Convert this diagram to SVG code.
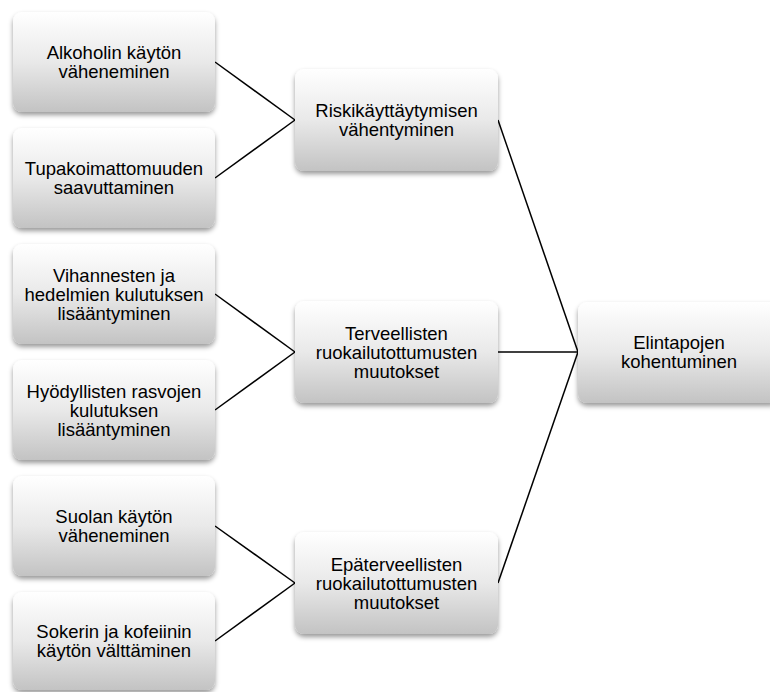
<svg xmlns="http://www.w3.org/2000/svg" width="770" height="692" viewBox="0 0 770 692">
<defs>
<linearGradient id="g" x1="0" y1="0" x2="0" y2="1">
<stop offset="0" stop-color="#ffffff"/>
<stop offset="0.5" stop-color="#e9e9e9"/>
<stop offset="1" stop-color="#c3c3c3"/>
</linearGradient>
<filter id="sh" x="-10%" y="-10%" width="120%" height="130%">
<feDropShadow dx="0" dy="3" stdDeviation="2.5" flood-color="#000" flood-opacity="0.4"/>
</filter>
<style>
.box{fill:url(#g);filter:url(#sh);}
.t{font-family:"Liberation Sans",Arial,sans-serif;font-size:18.5px;fill:#000;text-anchor:middle;}
.c{stroke:#000;stroke-width:1.5;fill:none;}
</style>
</defs>
<rect width="770" height="692" fill="#fff"/>
<g id="connectors">
<line class="c" x1="215" y1="62" x2="295" y2="120"/>
<line class="c" x1="215" y1="178" x2="295" y2="120"/>
<line class="c" x1="215" y1="294" x2="295" y2="352"/>
<line class="c" x1="215" y1="410" x2="295" y2="352"/>
<line class="c" x1="215" y1="526" x2="295" y2="583"/>
<line class="c" x1="215" y1="641" x2="295" y2="583"/>
<line class="c" x1="498" y1="120" x2="578" y2="352"/>
<line class="c" x1="498" y1="352" x2="578" y2="352"/>
<line class="c" x1="498" y1="583" x2="578" y2="352"/>
</g>
<g id="n1"><rect class="box" x="13" y="12" width="202" height="100" rx="9"/>
<text class="t" x="114" y="59">Alkoholin käytön</text><text class="t" x="114" y="78">väheneminen</text></g>
<g id="n2"><rect class="box" x="13" y="128" width="202" height="100" rx="9"/>
<text class="t" x="114" y="175">Tupakoimattomuuden</text><text class="t" x="114" y="194">saavuttaminen</text></g>
<g id="n3"><rect class="box" x="13" y="244" width="202" height="100" rx="9"/>
<text class="t" x="114" y="282">Vihannesten ja</text><text class="t" x="114" y="301">hedelmien kulutuksen</text><text class="t" x="114" y="320">lisääntyminen</text></g>
<g id="n4"><rect class="box" x="13" y="360" width="202" height="100" rx="9"/>
<text class="t" x="114" y="398">Hyödyllisten rasvojen</text><text class="t" x="114" y="417">kulutuksen</text><text class="t" x="114" y="436">lisääntyminen</text></g>
<g id="n5"><rect class="box" x="13" y="476" width="202" height="100" rx="9"/>
<text class="t" x="114" y="523">Suolan käytön</text><text class="t" x="114" y="542">väheneminen</text></g>
<g id="n6"><rect class="box" x="13" y="592" width="202" height="98" rx="9"/>
<text class="t" x="114" y="638">Sokerin ja kofeiinin</text><text class="t" x="114" y="657">käytön välttäminen</text></g>
<g id="m1"><rect class="box" x="295" y="69" width="203" height="102" rx="9"/>
<text class="t" x="396.5" y="117">Riskikäyttäytymisen</text><text class="t" x="396.5" y="136">vähentyminen</text></g>
<g id="m2"><rect class="box" x="295" y="301" width="203" height="102" rx="9"/>
<text class="t" x="396.5" y="340">Terveellisten</text><text class="t" x="396.5" y="359">ruokailutottumusten</text><text class="t" x="396.5" y="378">muutokset</text></g>
<g id="m3"><rect class="box" x="295" y="532" width="203" height="102" rx="9"/>
<text class="t" x="396.5" y="571">Epäterveellisten</text><text class="t" x="396.5" y="590">ruokailutottumusten</text><text class="t" x="396.5" y="609">muutokset</text></g>
<g id="r1"><rect class="box" x="578" y="302" width="202" height="101" rx="9"/>
<text class="t" x="679" y="349">Elintapojen</text><text class="t" x="679" y="368">kohentuminen</text></g>
</svg>
